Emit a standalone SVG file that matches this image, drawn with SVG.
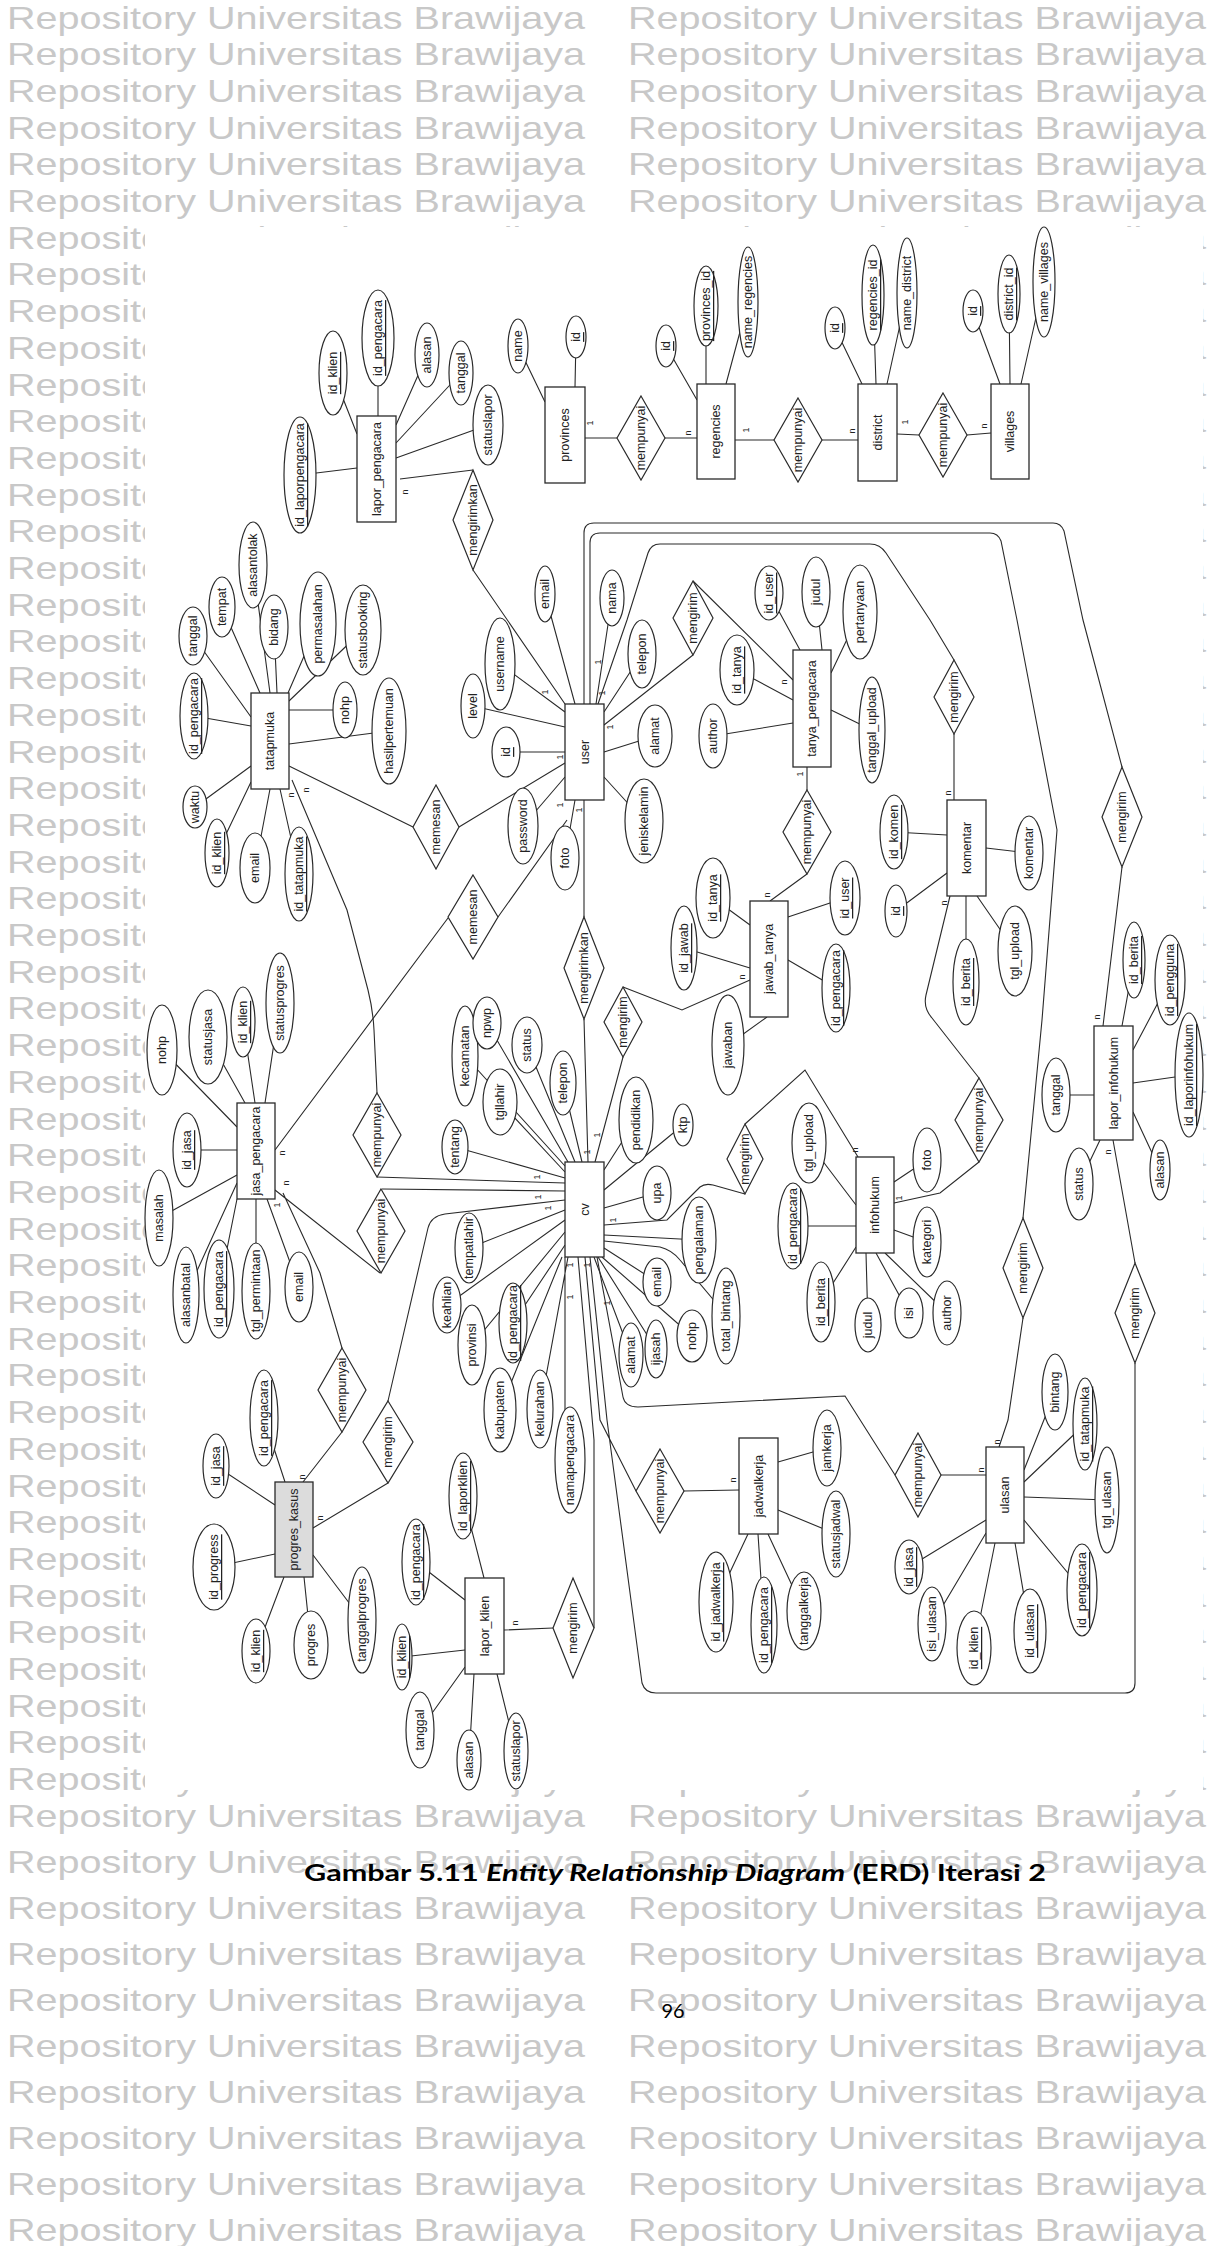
<svg xmlns="http://www.w3.org/2000/svg" xmlns:xlink="http://www.w3.org/1999/xlink" width="1208" height="2246" viewBox="0 0 1208 2246">
<style>
.w{font-family:"Liberation Sans",Arial,sans-serif;font-size:32px;fill:#c8c8c8}
.e ellipse{fill:#fff;stroke:#2a2a2a;stroke-width:1.2}
.n rect{fill:#fff;stroke:#2a2a2a;stroke-width:1.3}
.r polygon{fill:#fff;stroke:#2a2a2a;stroke-width:1.2}
.c path{stroke:#2a2a2a;stroke-width:1.1;fill:none}
text.t{font-family:"Liberation Sans",Arial,sans-serif;font-size:12.5px;fill:#222;text-anchor:middle;dominant-baseline:central}
text.u{text-decoration:underline}
text.k{font-family:"Liberation Sans",Arial,sans-serif;font-size:9px;fill:#222;text-anchor:middle;dominant-baseline:central}
</style>
<defs>
<text id="wm" class="w" x="0" y="0" textLength="578" lengthAdjust="spacingAndGlyphs">Repository Universitas Brawijaya</text>
<g id="wr"><use href="#wm" x="7"/><use href="#wm" x="628"/></g>
</defs>
<rect width="1208" height="2246" fill="#fff"/>
<g id="watermark">
<use href="#wr" y="28.5"/><use href="#wr" y="65.2"/><use href="#wr" y="101.9"/><use href="#wr" y="138.6"/><use href="#wr" y="175.3"/><use href="#wr" y="212"/>
<use href="#wr" y="248.7"/><use href="#wr" y="285.4"/><use href="#wr" y="322.1"/><use href="#wr" y="358.8"/>
<use href="#wr" y="395.5"/><use href="#wr" y="432.2"/><use href="#wr" y="468.9"/><use href="#wr" y="505.6"/>
<use href="#wr" y="542.3"/><use href="#wr" y="579"/><use href="#wr" y="615.7"/><use href="#wr" y="652.4"/>
<use href="#wr" y="689.1"/><use href="#wr" y="725.8"/><use href="#wr" y="762.5"/><use href="#wr" y="799.2"/>
<use href="#wr" y="835.9"/><use href="#wr" y="872.6"/><use href="#wr" y="909.3"/><use href="#wr" y="946"/>
<use href="#wr" y="982.7"/><use href="#wr" y="1019.4"/><use href="#wr" y="1056.1"/><use href="#wr" y="1092.8"/>
<use href="#wr" y="1129.5"/><use href="#wr" y="1166.2"/><use href="#wr" y="1202.9"/><use href="#wr" y="1239.6"/>
<use href="#wr" y="1276.3"/><use href="#wr" y="1313"/><use href="#wr" y="1349.7"/><use href="#wr" y="1386.4"/>
<use href="#wr" y="1423.1"/><use href="#wr" y="1459.8"/><use href="#wr" y="1496.5"/><use href="#wr" y="1533.2"/>
<use href="#wr" y="1569.9"/><use href="#wr" y="1606.6"/><use href="#wr" y="1643.3"/><use href="#wr" y="1680"/>
<use href="#wr" y="1716.7"/><use href="#wr" y="1753.4"/><use href="#wr" y="1790.1"/>
<use href="#wr" y="1826.8"/><use href="#wr" y="1873"/><use href="#wr" y="1919"/><use href="#wr" y="1965"/><use href="#wr" y="2011"/>
<use href="#wr" y="2057"/><use href="#wr" y="2103"/><use href="#wr" y="2149"/><use href="#wr" y="2195"/><use href="#wr" y="2241"/>
</g>
<rect id="figure-bg" x="145" y="227" width="1058" height="1563" fill="#fff"/>
<g id="connectors" class="c">
<path d="M300 475L357 468M333 373L357 434M378 338L378 416M427 355L396 425M461 373L396 443M488 425L396 458"/>
<path d="M518 346L545 402M576 337L575 387M666 346L697 400M706 306L706 384M748 302L726 384M835 328L862 384M873 295L876 384M907 293L887 384M973 311L1000 384M1009 294L1010 384M1044 282L1021 384"/>
<path d="M193 636L251 717M222 607L260 693M253 565L270 693M274 627L277 693M318 624L288 693M363 630L289 701M345 710L289 710M389 731L289 744M194 716L251 726M195 807L251 766M217 853L251 782M255 868L270 789M299 874L280 789"/>
<path d="M545 594L575 704M612 598L596 704M500 664L565 712M473 706L565 727M506 752L565 752M523 826L565 777M565 858L575 800M642 654L604 712M655 736L604 752M644 821L604 777"/>
<path d="M769 593L800 650M816 592L822 650M860 612L831 673M737 670L793 700M713 736L793 723M872 730L831 710"/>
<path d="M894 832L947 835M896 911L947 873M1029 853L986 848M1015 951L977 896M966 982L966 896"/>
<path d="M845 898L788 917M836 988L788 960M713 898L750 925M684 948L750 968M728 1045L767 1017"/>
<path d="M162 1050L237 1127M208 1037L245 1103M243 1022L255 1103M280 1003L265 1103M187 1150L237 1150M159 1218L237 1175M186 1295L237 1183M219 1289L237 1199M256 1291L256 1199M299 1287L267 1199"/>
<path d="M500 1102L565 1172M465 1056L565 1166M487 1023L568 1162M527 1045L575 1162M563 1083L582 1162M455 1147L565 1178M469 1248L565 1210M447 1305L565 1220M472 1345L565 1232M513 1323L565 1245M500 1410L562 1257M540 1409L568 1257M565 1257L565 1412"/>
<path d="M636 1120L604 1170M683 1125L604 1190M657 1193L604 1208M699 1240L604 1235M657 1282L604 1248M692 1336L602 1257M656 1349L598 1257M631 1355L594 1257M604 1241L660 1247Q672 1250 680 1260L722 1310"/>
<path d="M809 1143L856 1205M793 1226L856 1226M821 1302L856 1247M868 1325L866 1253M909 1313L876 1253M947 1313L885 1253M927 1242L894 1230M927 1160L894 1182"/>
<path d="M1056 1095L1094 1095M1189 1075L1133 1083M1160 1170L1133 1112M1079 1184L1100 1140M1134 960L1122 1026M1170 980L1133 1050"/>
<path d="M216 1466L275 1505M264 1418L285 1482M214 1567L275 1554M256 1651L284 1577M311 1645L304 1577M362 1620L313 1555"/>
<path d="M463 1496L484 1578M416 1562L465 1600M402 1657L465 1650M420 1730L465 1667M469 1760L474 1674M516 1751L497 1674"/>
<path d="M827 1448L778 1462M836 1534L778 1510M804 1611L768 1534M764 1625L758 1534M716 1602L748 1534"/>
<path d="M1055 1392L1024 1470M1085 1424L1024 1482M1107 1500L1024 1497M1082 1590L1024 1520M1030 1631L1015 1543M974 1648L995 1543M932 1624L986 1533M909 1567L986 1520"/>
<path d="M400 479L473 470M473 570L565 704M585 438H617M665 438H697M735 440H774M822 440H858M897 434L919 435M967 435L991 433"/>
<path d="M289 766L413 827M459 827L565 763M498 917L567 820M448 918L275 1150"/>
<path d="M292 780L347 910L368 990Q373 1010 374 1030L377 1093M377 1177L565 1183M382 1189L565 1191M380 1273L275 1190M283 1193L320 1273L342 1348M342 1432L303 1482M388 1483L313 1528M388 1401L428 1228Q431 1216 445 1214L565 1200"/>
<path d="M604 725L693 655M693 581L793 680M584 800V917M584 1019L588 1162M623 987L682 1010L750 980M623 1057L595 1162M807 767V790M807 874L770 901"/>
<path d="M598 704L627 620L648 553Q651 544 660 544L870 544Q880 544 886 553L930 620L954 660M954 734V800"/>
<path d="M590 704V543Q590 533 600 533L990 533Q998 533 1001 541L1017 620L1057 830L1042 1020L1023 1218M1023 1318L1008 1420L999 1447"/>
<path d="M584 704V533Q584 523 594 523L1053 523Q1061 523 1064 531L1083 620L1122 767M1122 867L1103 1026"/>
<path d="M950 896L926 995Q923 1008 932 1018L979 1078M979 1162L940 1193L894 1203M604 1225L667 1220L700 1187Q705 1183 713 1185L745 1194M745 1124L805 1070L858 1157M1135 1263L1113 1140"/>
<path d="M590 1257L607 1420L642 1683Q645 1693 656 1693L1125 1693Q1135 1693 1135 1683L1135 1363M597 1257L623 1397Q625 1407 638 1407L845 1396L895 1475M941 1475H986M585 1257L600 1420L636 1491M684 1491L739 1490M578 1257L594 1440V1628M504 1630L553 1628"/>
</g>
<g id="cardinalities">
<text class="k" transform="translate(405 492) rotate(-90)">n</text>
<text class="k" transform="translate(688 433) rotate(-90)">n</text>
<text class="k" transform="translate(852 431) rotate(-90)">n</text>
<text class="k" transform="translate(984 426) rotate(-90)">n</text>
<text class="k" transform="translate(291 795) rotate(-90)">n</text>
<text class="k" transform="translate(306 790) rotate(-90)">n</text>
<text class="k" transform="translate(784 682) rotate(-90)">n</text>
<text class="k" transform="translate(767 895) rotate(-90)">n</text>
<text class="k" transform="translate(948 793) rotate(-90)">n</text>
<text class="k" transform="translate(944 903) rotate(-90)">n</text>
<text class="k" transform="translate(742 977) rotate(-90)">n</text>
<text class="k" transform="translate(855 1150) rotate(-90)">n</text>
<text class="k" transform="translate(282 1153) rotate(-90)">n</text>
<text class="k" transform="translate(286 1183) rotate(-90)">n</text>
<text class="k" transform="translate(302 1477) rotate(-90)">n</text>
<text class="k" transform="translate(320 1518) rotate(-90)">n</text>
<text class="k" transform="translate(515 1623) rotate(-90)">n</text>
<text class="k" transform="translate(733 1480) rotate(-90)">n</text>
<text class="k" transform="translate(981 1470) rotate(-90)">n</text>
<text class="k" transform="translate(997 1442) rotate(-90)">n</text>
<text class="k" transform="translate(1097 1017) rotate(-90)">n</text>
<text class="k" transform="translate(1108 1152) rotate(-90)">n</text>
<text class="k" transform="translate(590 423) rotate(-90)">1</text>
<text class="k" transform="translate(746 430) rotate(-90)">1</text>
<text class="k" transform="translate(905 422) rotate(-90)">1</text>
<text class="k" transform="translate(545 692) rotate(-90)">1</text>
<text class="k" transform="translate(560 757) rotate(-90)">1</text>
<text class="k" transform="translate(560 805) rotate(-90)">1</text>
<text class="k" transform="translate(579 810) rotate(-90)">1</text>
<text class="k" transform="translate(598 662) rotate(-90)">1</text>
<text class="k" transform="translate(602 693) rotate(-90)">1</text>
<text class="k" transform="translate(610 727) rotate(-90)">1</text>
<text class="k" transform="translate(800 774) rotate(-90)">1</text>
<text class="k" transform="translate(597 1135) rotate(-90)">1</text>
<text class="k" transform="translate(587 1152) rotate(-90)">1</text>
<text class="k" transform="translate(537 1177) rotate(-90)">1</text>
<text class="k" transform="translate(538 1197) rotate(-90)">1</text>
<text class="k" transform="translate(548 1208) rotate(-90)">1</text>
<text class="k" transform="translate(613 1220) rotate(-90)">1</text>
<text class="k" transform="translate(570 1265) rotate(-90)">1</text>
<text class="k" transform="translate(587 1265) rotate(-90)">1</text>
<text class="k" transform="translate(570 1297) rotate(-90)">1</text>
<text class="k" transform="translate(607 1303) rotate(-90)">1</text>
<text class="k" transform="translate(899 1198) rotate(-90)">1</text>
<text class="k" transform="translate(277 1205) rotate(-90)">1</text>
</g>
<g id="entities" class="n">
<g id="lapor_pengacara"><rect x="357" y="416" width="39" height="106"/><text class="t" transform="translate(376.5 469) rotate(-90)">lapor_pengacara</text></g>
<g id="provinces"><rect x="545" y="387" width="40" height="96"/><text class="t" transform="translate(565 435) rotate(-90)">provinces</text></g>
<g id="regencies"><rect x="697" y="384" width="38" height="95"/><text class="t" transform="translate(716 431.5) rotate(-90)">regencies</text></g>
<g id="district"><rect x="858" y="384" width="39" height="97"/><text class="t" transform="translate(877.5 432.5) rotate(-90)">district</text></g>
<g id="villages"><rect x="991" y="384" width="38" height="95"/><text class="t" transform="translate(1010 431.5) rotate(-90)">villages</text></g>
<g id="tatapmuka"><rect x="251" y="693" width="38" height="96"/><text class="t" transform="translate(270 741) rotate(-90)">tatapmuka</text></g>
<g id="user"><rect x="565" y="704" width="39" height="96"/><text class="t" transform="translate(584.5 752) rotate(-90)">user</text></g>
<g id="tanya_pengacara"><rect x="793" y="650" width="38" height="117"/><text class="t" transform="translate(812 708.5) rotate(-90)">tanya_pengacara</text></g>
<g id="komentar"><rect x="947" y="800" width="39" height="96"/><text class="t" transform="translate(966.5 848) rotate(-90)">komentar</text></g>
<g id="jawab_tanya"><rect x="750" y="901" width="38" height="116"/><text class="t" transform="translate(769 959) rotate(-90)">jawab_tanya</text></g>
<g id="jasa_pengacara"><rect x="237" y="1103" width="38" height="96"/><text class="t" transform="translate(256 1151) rotate(-90)">jasa_pengacara</text></g>
<g id="cv"><rect x="565" y="1162" width="39" height="95"/><text class="t" transform="translate(584.5 1209.5) rotate(-90)">cv</text></g>
<g id="infohukum"><rect x="856" y="1157" width="38" height="96"/><text class="t" transform="translate(875 1205) rotate(-90)">infohukum</text></g>
<g id="lapor_infohukum"><rect x="1094" y="1026" width="39" height="114"/><text class="t" transform="translate(1113.5 1083) rotate(-90)">lapor_infohukum</text></g>
<g id="progres_kasus"><rect x="275" y="1482" width="38" height="95" style="fill:#dcdcdc"/><text class="t" transform="translate(294 1529.5) rotate(-90)">progres_kasus</text></g>
<g id="lapor_klien"><rect x="465" y="1578" width="39" height="96"/><text class="t" transform="translate(484.5 1626) rotate(-90)">lapor_klien</text></g>
<g id="jadwalkerja"><rect x="739" y="1438" width="39" height="96"/><text class="t" transform="translate(758.5 1486) rotate(-90)">jadwalkerja</text></g>
<g id="ulasan"><rect x="986" y="1447" width="38" height="96"/><text class="t" transform="translate(1005 1495) rotate(-90)">ulasan</text></g>
</g>
<g id="relationships" class="r">
<g id="rel_mengirimkan_lp"><polygon points="473,470 493,520 473,570 453,520"/><text class="t" transform="translate(473 520) rotate(-90)">mengirimkan</text></g>
<g id="rel_mempunyai_prov"><polygon points="641,396 665,438 641,480 617,438"/><text class="t" transform="translate(641 438) rotate(-90)">mempunyai</text></g>
<g id="rel_mempunyai_reg"><polygon points="798,398 822,440 798,482 774,440"/><text class="t" transform="translate(798 440) rotate(-90)">mempunyai</text></g>
<g id="rel_mempunyai_dist"><polygon points="943,393 967,435 943,477 919,435"/><text class="t" transform="translate(943 435) rotate(-90)">mempunyai</text></g>
<g id="rel_memesan_tm"><polygon points="436,785 459,827 436,869 413,827"/><text class="t" transform="translate(436 827) rotate(-90)">memesan</text></g>
<g id="rel_memesan_js"><polygon points="473,875 498,917 473,959 448,917"/><text class="t" transform="translate(473 917) rotate(-90)">memesan</text></g>
<g id="rel_mengirim_tp"><polygon points="693,581 713,618 693,655 673,618"/><text class="t" transform="translate(693 618) rotate(-90)">mengirim</text></g>
<g id="rel_mengirim_km"><polygon points="954,660 974,697 954,734 934,697"/><text class="t" transform="translate(954 697) rotate(-90)">mengirim</text></g>
<g id="rel_mempunyai_tj"><polygon points="807,790 831,832 807,874 783,832"/><text class="t" transform="translate(807 832) rotate(-90)">mempunyai</text></g>
<g id="rel_mengirimkan_cv"><polygon points="584,917 604,968 584,1019 564,968"/><text class="t" transform="translate(584 968) rotate(-90)">mengirimkan</text></g>
<g id="rel_mengirim_jt"><polygon points="623,987 642,1022 623,1057 604,1022"/><text class="t" transform="translate(623 1022) rotate(-90)">mengirim</text></g>
<g id="rel_mempunyai_j1"><polygon points="377,1093 401,1135 377,1177 353,1135"/><text class="t" transform="translate(377 1135) rotate(-90)">mempunyai</text></g>
<g id="rel_mempunyai_j2"><polygon points="381,1189 405,1231 381,1273 357,1231"/><text class="t" transform="translate(381 1231) rotate(-90)">mempunyai</text></g>
<g id="rel_mengirim_ih"><polygon points="745,1124 763,1159 745,1194 727,1159"/><text class="t" transform="translate(745 1159) rotate(-90)">mengirim</text></g>
<g id="rel_mempunyai_ik"><polygon points="979,1078 1003,1120 979,1162 955,1120"/><text class="t" transform="translate(979 1120) rotate(-90)">mempunyai</text></g>
<g id="rel_mengirim_li1"><polygon points="1122,767 1142,817 1122,867 1102,817"/><text class="t" transform="translate(1122 817) rotate(-90)">mengirim</text></g>
<g id="rel_mengirim_li2"><polygon points="1135,1263 1155,1313 1135,1363 1115,1313"/><text class="t" transform="translate(1135 1313) rotate(-90)">mengirim</text></g>
<g id="rel_mengirim_ul"><polygon points="1023,1218 1043,1268 1023,1318 1003,1268"/><text class="t" transform="translate(1023 1268) rotate(-90)">mengirim</text></g>
<g id="rel_mempunyai_pk"><polygon points="342,1348 366,1390 342,1432 318,1390"/><text class="t" transform="translate(342 1390) rotate(-90)">mempunyai</text></g>
<g id="rel_mengirim_pk"><polygon points="388,1401 413,1442 388,1483 363,1442"/><text class="t" transform="translate(388 1442) rotate(-90)">mengirim</text></g>
<g id="rel_mengirim_lk"><polygon points="573,1578 594,1628 573,1678 553,1628"/><text class="t" transform="translate(573 1628) rotate(-90)">mengirim</text></g>
<g id="rel_mempunyai_jk"><polygon points="660,1449 684,1491 660,1533 636,1491"/><text class="t" transform="translate(660 1491) rotate(-90)">mempunyai</text></g>
<g id="rel_mempunyai_ul"><polygon points="918,1433 941,1475 918,1517 895,1475"/><text class="t" transform="translate(918 1475) rotate(-90)">mempunyai</text></g>
</g>
<g id="attributes" class="e">
<g id="lp_id_laporpengacara"><ellipse cx="300" cy="475" rx="16" ry="58"/><text class="t u" transform="translate(300 475) rotate(-90)">id_laporpengacara</text></g>
<g id="lp_id_klien"><ellipse cx="333" cy="373" rx="14" ry="42"/><text class="t u" transform="translate(333 373) rotate(-90)">id_klien</text></g>
<g id="lp_id_pengacara"><ellipse cx="378" cy="338" rx="16" ry="48"/><text class="t u" transform="translate(378 338) rotate(-90)">id_pengacara</text></g>
<g id="lp_alasan"><ellipse cx="427" cy="355" rx="12" ry="32"/><text class="t" transform="translate(427 355) rotate(-90)">alasan</text></g>
<g id="lp_tanggal"><ellipse cx="461" cy="373" rx="12" ry="32"/><text class="t" transform="translate(461 373) rotate(-90)">tanggal</text></g>
<g id="lp_statuslapor"><ellipse cx="488" cy="425" rx="15" ry="40"/><text class="t" transform="translate(488 425) rotate(-90)">statuslapor</text></g>
<g id="pv_name"><ellipse cx="518" cy="346" rx="10" ry="27"/><text class="t" transform="translate(518 346) rotate(-90)">name</text></g>
<g id="pv_id"><ellipse cx="576" cy="337" rx="10" ry="21"/><text class="t u" transform="translate(576 337) rotate(-90)">id</text></g>
<g id="rg_id"><ellipse cx="666" cy="346" rx="10" ry="21"/><text class="t u" transform="translate(666 346) rotate(-90)">id</text></g>
<g id="rg_provinces_id"><ellipse cx="706" cy="306" rx="12" ry="40"/><text class="t u" transform="translate(706 306) rotate(-90)">provinces_id</text></g>
<g id="rg_name_regencies"><ellipse cx="748" cy="302" rx="10" ry="55"/><text class="t" transform="translate(748 302) rotate(-90)">name_regencies</text></g>
<g id="ds_id"><ellipse cx="835" cy="328" rx="10" ry="21"/><text class="t u" transform="translate(835 328) rotate(-90)">id</text></g>
<g id="ds_regencies_id"><ellipse cx="873" cy="295" rx="11" ry="50"/><text class="t u" transform="translate(873 295) rotate(-90)">regencies_id</text></g>
<g id="ds_name_district"><ellipse cx="907" cy="293" rx="10" ry="55"/><text class="t" transform="translate(907 293) rotate(-90)">name_district</text></g>
<g id="vl_id"><ellipse cx="973" cy="311" rx="10" ry="21"/><text class="t u" transform="translate(973 311) rotate(-90)">id</text></g>
<g id="vl_district_id"><ellipse cx="1009" cy="294" rx="11" ry="39"/><text class="t u" transform="translate(1009 294) rotate(-90)">district_id</text></g>
<g id="vl_name_villages"><ellipse cx="1044" cy="282" rx="11" ry="55"/><text class="t" transform="translate(1044 282) rotate(-90)">name_villages</text></g>
<g id="tm_tanggal"><ellipse cx="193" cy="636" rx="14" ry="29"/><text class="t" transform="translate(193 636) rotate(-90)">tanggal</text></g>
<g id="tm_tempat"><ellipse cx="222" cy="607" rx="13" ry="30"/><text class="t" transform="translate(222 607) rotate(-90)">tempat</text></g>
<g id="tm_alasantolak"><ellipse cx="253" cy="565" rx="14" ry="43"/><text class="t" transform="translate(253 565) rotate(-90)">alasantolak</text></g>
<g id="tm_bidang"><ellipse cx="274" cy="627" rx="14" ry="32"/><text class="t" transform="translate(274 627) rotate(-90)">bidang</text></g>
<g id="tm_permasalahan"><ellipse cx="318" cy="624" rx="18" ry="52"/><text class="t" transform="translate(318 624) rotate(-90)">permasalahan</text></g>
<g id="tm_statusbooking"><ellipse cx="363" cy="630" rx="18" ry="45"/><text class="t" transform="translate(363 630) rotate(-90)">statusbooking</text></g>
<g id="tm_nohp"><ellipse cx="345" cy="710" rx="12" ry="28"/><text class="t" transform="translate(345 710) rotate(-90)">nohp</text></g>
<g id="tm_hasilpertemuan"><ellipse cx="389" cy="731" rx="17" ry="53"/><text class="t" transform="translate(389 731) rotate(-90)">hasilpertemuan</text></g>
<g id="tm_id_pengacara"><ellipse cx="194" cy="716" rx="14" ry="43"/><text class="t u" transform="translate(194 716) rotate(-90)">id_pengacara</text></g>
<g id="tm_waktu"><ellipse cx="195" cy="807" rx="12" ry="21"/><text class="t" transform="translate(195 807) rotate(-90)">waktu</text></g>
<g id="tm_id_klien"><ellipse cx="217" cy="853" rx="12" ry="34"/><text class="t u" transform="translate(217 853) rotate(-90)">id_klien</text></g>
<g id="tm_email"><ellipse cx="255" cy="868" rx="15" ry="35"/><text class="t" transform="translate(255 868) rotate(-90)">email</text></g>
<g id="tm_id_tatapmuka"><ellipse cx="299" cy="874" rx="14" ry="47"/><text class="t u" transform="translate(299 874) rotate(-90)">id_tatapmuka</text></g>
<g id="us_email"><ellipse cx="545" cy="594" rx="10" ry="28"/><text class="t" transform="translate(545 594) rotate(-90)">email</text></g>
<g id="us_nama"><ellipse cx="612" cy="598" rx="12" ry="28"/><text class="t" transform="translate(612 598) rotate(-90)">nama</text></g>
<g id="us_username"><ellipse cx="500" cy="664" rx="15" ry="46"/><text class="t" transform="translate(500 664) rotate(-90)">username</text></g>
<g id="us_level"><ellipse cx="473" cy="706" rx="12" ry="32"/><text class="t" transform="translate(473 706) rotate(-90)">level</text></g>
<g id="us_id"><ellipse cx="506" cy="752" rx="14" ry="25"/><text class="t u" transform="translate(506 752) rotate(-90)">id</text></g>
<g id="us_password"><ellipse cx="523" cy="826" rx="15" ry="38"/><text class="t" transform="translate(523 826) rotate(-90)">password</text></g>
<g id="us_foto"><ellipse cx="565" cy="858" rx="14" ry="32"/><text class="t" transform="translate(565 858) rotate(-90)">foto</text></g>
<g id="us_telepon"><ellipse cx="642" cy="654" rx="14" ry="34"/><text class="t" transform="translate(642 654) rotate(-90)">telepon</text></g>
<g id="us_alamat"><ellipse cx="655" cy="736" rx="17" ry="31"/><text class="t" transform="translate(655 736) rotate(-90)">alamat</text></g>
<g id="us_jeniskelamin"><ellipse cx="644" cy="821" rx="19" ry="42"/><text class="t" transform="translate(644 821) rotate(-90)">jeniskelamin</text></g>
<g id="tp_id_user"><ellipse cx="769" cy="593" rx="14" ry="27"/><text class="t u" transform="translate(769 593) rotate(-90)">id_user</text></g>
<g id="tp_judul"><ellipse cx="816" cy="592" rx="14" ry="35"/><text class="t" transform="translate(816 592) rotate(-90)">judul</text></g>
<g id="tp_pertanyaan"><ellipse cx="860" cy="612" rx="17" ry="47"/><text class="t" transform="translate(860 612) rotate(-90)">pertanyaan</text></g>
<g id="tp_id_tanya"><ellipse cx="737" cy="670" rx="17" ry="35"/><text class="t u" transform="translate(737 670) rotate(-90)">id_tanya</text></g>
<g id="tp_author"><ellipse cx="713" cy="736" rx="14" ry="32"/><text class="t" transform="translate(713 736) rotate(-90)">author</text></g>
<g id="tp_tanggal_upload"><ellipse cx="872" cy="730" rx="13" ry="53"/><text class="t" transform="translate(872 730) rotate(-90)">tanggal_upload</text></g>
<g id="km_id_komen"><ellipse cx="894" cy="832" rx="14" ry="37"/><text class="t u" transform="translate(894 832) rotate(-90)">id_komen</text></g>
<g id="km_id"><ellipse cx="896" cy="911" rx="11" ry="26"/><text class="t u" transform="translate(896 911) rotate(-90)">id</text></g>
<g id="km_komentar"><ellipse cx="1029" cy="853" rx="14" ry="37"/><text class="t" transform="translate(1029 853) rotate(-90)">komentar</text></g>
<g id="km_tgl_upload"><ellipse cx="1015" cy="951" rx="17" ry="45"/><text class="t" transform="translate(1015 951) rotate(-90)">tgl_upload</text></g>
<g id="km_id_berita"><ellipse cx="966" cy="982" rx="13" ry="43"/><text class="t u" transform="translate(966 982) rotate(-90)">id_berita</text></g>
<g id="jt_id_user"><ellipse cx="845" cy="898" rx="15" ry="37"/><text class="t u" transform="translate(845 898) rotate(-90)">id_user</text></g>
<g id="jt_id_pengacara"><ellipse cx="836" cy="988" rx="14" ry="44"/><text class="t u" transform="translate(836 988) rotate(-90)">id_pengacara</text></g>
<g id="jt_id_tanya"><ellipse cx="713" cy="898" rx="17" ry="40"/><text class="t u" transform="translate(713 898) rotate(-90)">id_tanya</text></g>
<g id="jt_id_jawab"><ellipse cx="684" cy="948" rx="13" ry="42"/><text class="t u" transform="translate(684 948) rotate(-90)">id_jawab</text></g>
<g id="jt_jawaban"><ellipse cx="728" cy="1045" rx="16" ry="50"/><text class="t" transform="translate(728 1045) rotate(-90)">jawaban</text></g>
<g id="js_nohp"><ellipse cx="162" cy="1050" rx="15" ry="45"/><text class="t" transform="translate(162 1050) rotate(-90)">nohp</text></g>
<g id="js_statusjasa"><ellipse cx="208" cy="1037" rx="19" ry="47"/><text class="t" transform="translate(208 1037) rotate(-90)">statusjasa</text></g>
<g id="js_id_klien"><ellipse cx="243" cy="1022" rx="12" ry="35"/><text class="t u" transform="translate(243 1022) rotate(-90)">id_klien</text></g>
<g id="js_statusprogres"><ellipse cx="280" cy="1003" rx="14" ry="50"/><text class="t" transform="translate(280 1003) rotate(-90)">statusprogres</text></g>
<g id="js_id_jasa"><ellipse cx="187" cy="1150" rx="14" ry="37"/><text class="t u" transform="translate(187 1150) rotate(-90)">id_jasa</text></g>
<g id="js_masalah"><ellipse cx="159" cy="1218" rx="14" ry="48"/><text class="t" transform="translate(159 1218) rotate(-90)">masalah</text></g>
<g id="js_alasanbatal"><ellipse cx="186" cy="1295" rx="13" ry="48"/><text class="t" transform="translate(186 1295) rotate(-90)">alasanbatal</text></g>
<g id="js_id_pengacara"><ellipse cx="219" cy="1289" rx="15" ry="49"/><text class="t u" transform="translate(219 1289) rotate(-90)">id_pengacara</text></g>
<g id="js_tgl_permintaan"><ellipse cx="256" cy="1291" rx="14" ry="48"/><text class="t" transform="translate(256 1291) rotate(-90)">tgl_permintaan</text></g>
<g id="js_email"><ellipse cx="299" cy="1287" rx="14" ry="35"/><text class="t" transform="translate(299 1287) rotate(-90)">email</text></g>
<g id="cv_kecamatan"><ellipse cx="465" cy="1056" rx="13" ry="50"/><text class="t" transform="translate(465 1056) rotate(-90)">kecamatan</text></g>
<g id="cv_npwp"><ellipse cx="487" cy="1023" rx="14" ry="26"/><text class="t" transform="translate(487 1023) rotate(-90)">npwp</text></g>
<g id="cv_tgllahir"><ellipse cx="500" cy="1102" rx="17" ry="33"/><text class="t" transform="translate(500 1102) rotate(-90)">tgllahir</text></g>
<g id="cv_status"><ellipse cx="527" cy="1045" rx="15" ry="28"/><text class="t" transform="translate(527 1045) rotate(-90)">status</text></g>
<g id="cv_telepon"><ellipse cx="563" cy="1083" rx="13" ry="32"/><text class="t" transform="translate(563 1083) rotate(-90)">telepon</text></g>
<g id="cv_tentang"><ellipse cx="455" cy="1147" rx="13" ry="27"/><text class="t" transform="translate(455 1147) rotate(-90)">tentang</text></g>
<g id="cv_tempatlahir"><ellipse cx="469" cy="1248" rx="14" ry="35"/><text class="t" transform="translate(469 1248) rotate(-90)">tempatlahir</text></g>
<g id="cv_keahlian"><ellipse cx="447" cy="1305" rx="14" ry="28"/><text class="t" transform="translate(447 1305) rotate(-90)">keahlian</text></g>
<g id="cv_provinsi"><ellipse cx="472" cy="1345" rx="14" ry="40"/><text class="t" transform="translate(472 1345) rotate(-90)">provinsi</text></g>
<g id="cv_id_pengacara"><ellipse cx="513" cy="1323" rx="14" ry="40"/><text class="t u" transform="translate(513 1323) rotate(-90)">id_pengacara</text></g>
<g id="cv_kabupaten"><ellipse cx="500" cy="1410" rx="16" ry="42"/><text class="t" transform="translate(500 1410) rotate(-90)">kabupaten</text></g>
<g id="cv_kelurahan"><ellipse cx="540" cy="1409" rx="13" ry="39"/><text class="t" transform="translate(540 1409) rotate(-90)">kelurahan</text></g>
<g id="cv_namapengacara"><ellipse cx="570" cy="1460" rx="15" ry="53"/><text class="t" transform="translate(570 1460) rotate(-90)">namapengacara</text></g>
<g id="cv_pendidikan"><ellipse cx="636" cy="1120" rx="17" ry="43"/><text class="t" transform="translate(636 1120) rotate(-90)">pendidikan</text></g>
<g id="cv_ktp"><ellipse cx="683" cy="1125" rx="10" ry="21"/><text class="t" transform="translate(683 1125) rotate(-90)">ktp</text></g>
<g id="cv_upa"><ellipse cx="657" cy="1193" rx="14" ry="27"/><text class="t" transform="translate(657 1193) rotate(-90)">upa</text></g>
<g id="cv_pengalaman"><ellipse cx="699" cy="1240" rx="17" ry="43"/><text class="t" transform="translate(699 1240) rotate(-90)">pengalaman</text></g>
<g id="cv_total_bintang"><ellipse cx="726" cy="1316" rx="14" ry="48"/><text class="t" transform="translate(726 1316) rotate(-90)">total_bintang</text></g>
<g id="cv_email"><ellipse cx="657" cy="1282" rx="14" ry="24"/><text class="t" transform="translate(657 1282) rotate(-90)">email</text></g>
<g id="cv_nohp"><ellipse cx="692" cy="1336" rx="15" ry="26"/><text class="t" transform="translate(692 1336) rotate(-90)">nohp</text></g>
<g id="cv_ijasah"><ellipse cx="656" cy="1349" rx="11" ry="29"/><text class="t" transform="translate(656 1349) rotate(-90)">ijasah</text></g>
<g id="cv_alamat"><ellipse cx="631" cy="1355" rx="12" ry="32"/><text class="t" transform="translate(631 1355) rotate(-90)">alamat</text></g>
<g id="ih_tgl_upload"><ellipse cx="809" cy="1143" rx="17" ry="40"/><text class="t" transform="translate(809 1143) rotate(-90)">tgl_upload</text></g>
<g id="ih_id_pengacara"><ellipse cx="793" cy="1226" rx="15" ry="43"/><text class="t u" transform="translate(793 1226) rotate(-90)">id_pengacara</text></g>
<g id="ih_id_berita"><ellipse cx="821" cy="1302" rx="14" ry="40"/><text class="t u" transform="translate(821 1302) rotate(-90)">id_berita</text></g>
<g id="ih_judul"><ellipse cx="868" cy="1325" rx="13" ry="27"/><text class="t" transform="translate(868 1325) rotate(-90)">judul</text></g>
<g id="ih_isi"><ellipse cx="909" cy="1313" rx="14" ry="25"/><text class="t" transform="translate(909 1313) rotate(-90)">isi</text></g>
<g id="ih_author"><ellipse cx="947" cy="1313" rx="14" ry="32"/><text class="t" transform="translate(947 1313) rotate(-90)">author</text></g>
<g id="ih_kategori"><ellipse cx="927" cy="1242" rx="14" ry="35"/><text class="t" transform="translate(927 1242) rotate(-90)">kategori</text></g>
<g id="ih_foto"><ellipse cx="927" cy="1160" rx="14" ry="32"/><text class="t" transform="translate(927 1160) rotate(-90)">foto</text></g>
<g id="li_tanggal"><ellipse cx="1056" cy="1095" rx="14" ry="37"/><text class="t" transform="translate(1056 1095) rotate(-90)">tanggal</text></g>
<g id="li_id_laporinfohukum"><ellipse cx="1189" cy="1075" rx="14" ry="62"/><text class="t u" transform="translate(1189 1075) rotate(-90)">id_laporinfohukum</text></g>
<g id="li_alasan"><ellipse cx="1160" cy="1170" rx="10" ry="30"/><text class="t" transform="translate(1160 1170) rotate(-90)">alasan</text></g>
<g id="li_status"><ellipse cx="1079" cy="1184" rx="14" ry="36"/><text class="t" transform="translate(1079 1184) rotate(-90)">status</text></g>
<g id="li_id_berita"><ellipse cx="1134" cy="960" rx="11" ry="38"/><text class="t u" transform="translate(1134 960) rotate(-90)">id_berita</text></g>
<g id="li_id_pengguna"><ellipse cx="1170" cy="980" rx="15" ry="45"/><text class="t u" transform="translate(1170 980) rotate(-90)">id_pengguna</text></g>
<g id="pk_id_jasa"><ellipse cx="216" cy="1466" rx="13" ry="32"/><text class="t u" transform="translate(216 1466) rotate(-90)">id_jasa</text></g>
<g id="pk_id_pengacara"><ellipse cx="264" cy="1418" rx="14" ry="48"/><text class="t u" transform="translate(264 1418) rotate(-90)">id_pengacara</text></g>
<g id="pk_id_progress"><ellipse cx="214" cy="1567" rx="21" ry="43"/><text class="t u" transform="translate(214 1567) rotate(-90)">id_progress</text></g>
<g id="pk_id_klien"><ellipse cx="256" cy="1651" rx="14" ry="32"/><text class="t u" transform="translate(256 1651) rotate(-90)">id_klien</text></g>
<g id="pk_progres"><ellipse cx="311" cy="1645" rx="17" ry="34"/><text class="t" transform="translate(311 1645) rotate(-90)">progres</text></g>
<g id="pk_tanggalprogres"><ellipse cx="362" cy="1620" rx="14" ry="53"/><text class="t" transform="translate(362 1620) rotate(-90)">tanggalprogres</text></g>
<g id="lk_id_laporklien"><ellipse cx="463" cy="1496" rx="14" ry="43"/><text class="t u" transform="translate(463 1496) rotate(-90)">id_laporklien</text></g>
<g id="lk_id_pengacara"><ellipse cx="416" cy="1562" rx="14" ry="43"/><text class="t u" transform="translate(416 1562) rotate(-90)">id_pengacara</text></g>
<g id="lk_id_klien"><ellipse cx="402" cy="1657" rx="10" ry="33"/><text class="t u" transform="translate(402 1657) rotate(-90)">id_klien</text></g>
<g id="lk_tanggal"><ellipse cx="420" cy="1730" rx="14" ry="38"/><text class="t" transform="translate(420 1730) rotate(-90)">tanggal</text></g>
<g id="lk_alasan"><ellipse cx="469" cy="1760" rx="12" ry="30"/><text class="t" transform="translate(469 1760) rotate(-90)">alasan</text></g>
<g id="lk_statuslapor"><ellipse cx="516" cy="1751" rx="12" ry="38"/><text class="t" transform="translate(516 1751) rotate(-90)">statuslapor</text></g>
<g id="jk_jamkerja"><ellipse cx="827" cy="1448" rx="14" ry="38"/><text class="t" transform="translate(827 1448) rotate(-90)">jamkerja</text></g>
<g id="jk_statusjadwal"><ellipse cx="836" cy="1534" rx="14" ry="43"/><text class="t" transform="translate(836 1534) rotate(-90)">statusjadwal</text></g>
<g id="jk_tanggalkerja"><ellipse cx="804" cy="1611" rx="17" ry="39"/><text class="t" transform="translate(804 1611) rotate(-90)">tanggalkerja</text></g>
<g id="jk_id_pengacara"><ellipse cx="764" cy="1625" rx="13" ry="48"/><text class="t u" transform="translate(764 1625) rotate(-90)">id_pengacara</text></g>
<g id="jk_id_jadwalkerja"><ellipse cx="716" cy="1602" rx="17" ry="50"/><text class="t u" transform="translate(716 1602) rotate(-90)">id_jadwalkerja</text></g>
<g id="ul_bintang"><ellipse cx="1055" cy="1392" rx="13" ry="38"/><text class="t" transform="translate(1055 1392) rotate(-90)">bintang</text></g>
<g id="ul_id_tatapmuka"><ellipse cx="1085" cy="1424" rx="12" ry="46"/><text class="t u" transform="translate(1085 1424) rotate(-90)">id_tatapmuka</text></g>
<g id="ul_tgl_ulasan"><ellipse cx="1107" cy="1500" rx="12" ry="53"/><text class="t" transform="translate(1107 1500) rotate(-90)">tgl_ulasan</text></g>
<g id="ul_id_pengacara"><ellipse cx="1082" cy="1590" rx="15" ry="46"/><text class="t u" transform="translate(1082 1590) rotate(-90)">id_pengacara</text></g>
<g id="ul_id_ulasan"><ellipse cx="1030" cy="1631" rx="16" ry="42"/><text class="t u" transform="translate(1030 1631) rotate(-90)">id_ulasan</text></g>
<g id="ul_id_klien"><ellipse cx="974" cy="1648" rx="17" ry="37"/><text class="t u" transform="translate(974 1648) rotate(-90)">id_klien</text></g>
<g id="ul_isi_ulasan"><ellipse cx="932" cy="1624" rx="14" ry="37"/><text class="t" transform="translate(932 1624) rotate(-90)">isi_ulasan</text></g>
<g id="ul_id_jasa"><ellipse cx="909" cy="1567" rx="14" ry="27"/><text class="t u" transform="translate(909 1567) rotate(-90)">id_jasa</text></g>
</g>
<text id="caption" x="304" y="1881" font-family="Lato,'Liberation Sans',sans-serif" font-weight="700" font-size="23" fill="#000" textLength="742" lengthAdjust="spacingAndGlyphs">Gambar 5.11 <tspan font-style="italic">Entity Relationship Diagram</tspan> (ERD) Iterasi 2</text>
<text id="page-number" x="673" y="2018" text-anchor="middle" font-family="Lato,'Liberation Sans',sans-serif" font-size="20" fill="#000">96</text>
</svg>
